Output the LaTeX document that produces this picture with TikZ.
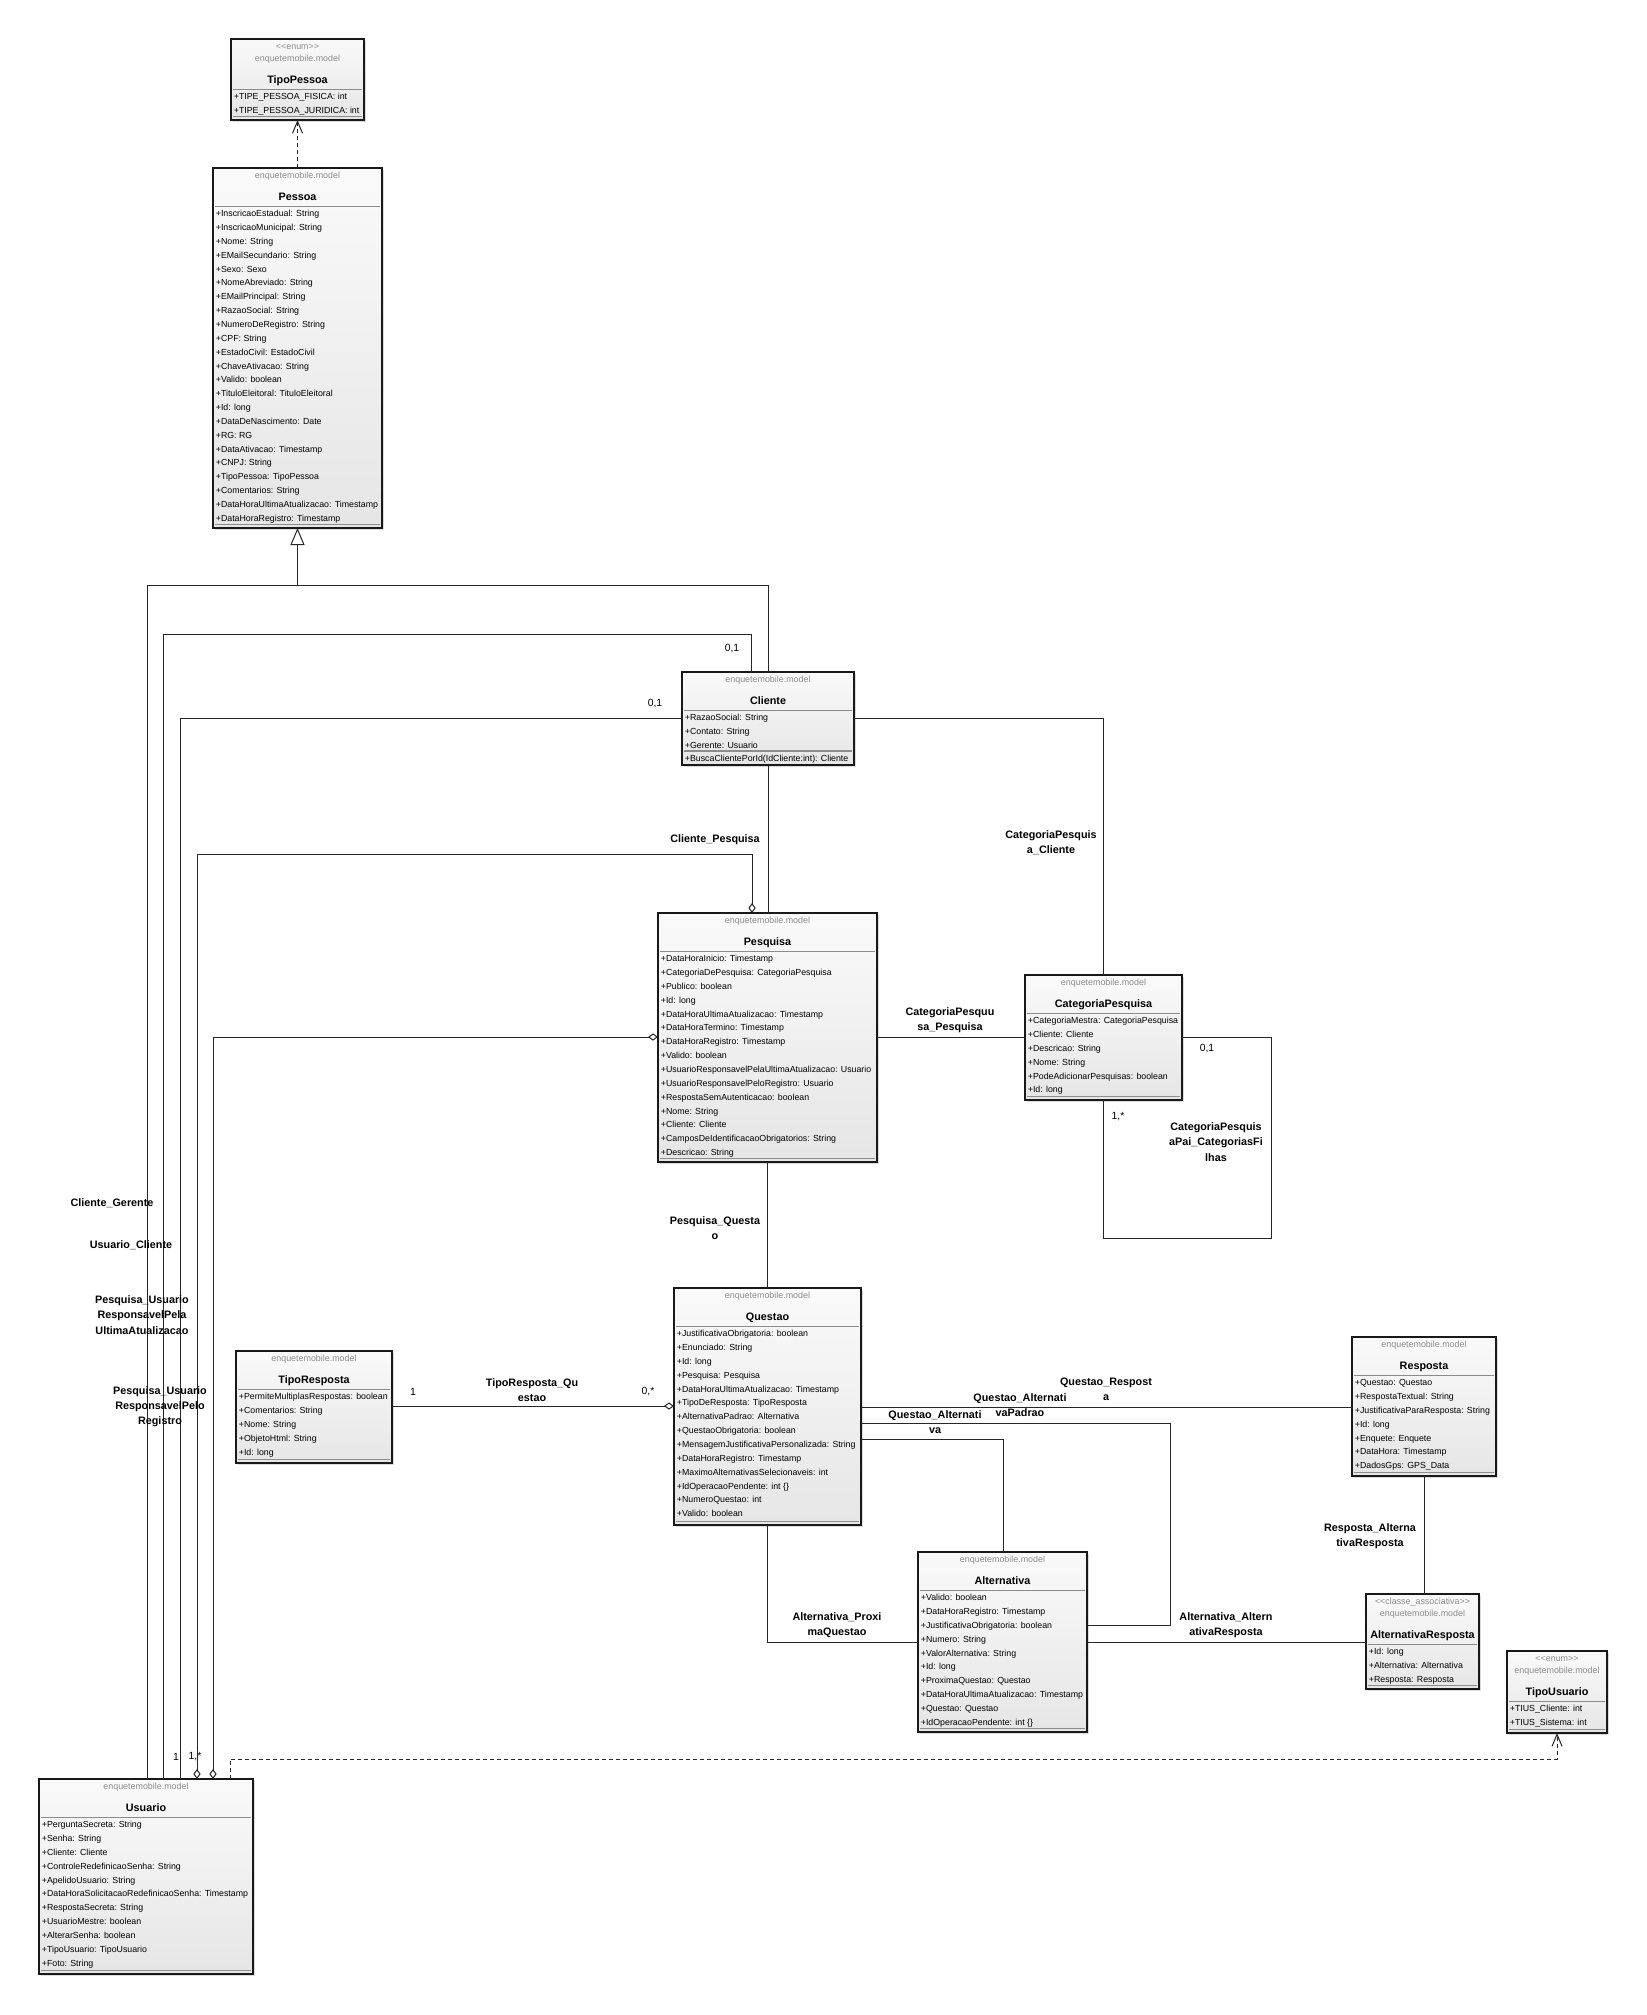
\documentclass[tikz,border=0pt]{standalone}
\usepackage{fontspec}
\setmainfont{Liberation Sans}
\usetikzlibrary{arrows.meta,fit}
\definecolor{pkggray}{HTML}{8C8C8C}
\tikzset{
 classframe/.style={draw=black!90,line width=0.75pt,top color=black!2,bottom color=black!10,inner sep=0pt,outer sep=0pt},
 boxshadow/.style={fill=black!14},
 sepline/.style={draw=black!45,line width=0.6pt},
 pkgtext/.style={inner sep=0pt,text=pkggray,font=\fontsize{4.45}{5}\selectfont,text height=3.19pt,text depth=0pt},
 nametext/.style={inner sep=0pt,font=\bfseries\fontsize{5.4}{6}\selectfont,text height=3.87pt,text depth=0pt},
 attrtext/.style={inner sep=0pt,anchor=west,font=\fontsize{4.4}{5}\selectfont,text height=3.15pt,text depth=0pt},
 assoc/.style={draw=black!85,line width=0.5pt},
 depline/.style={assoc,dash pattern=on 2pt off 1.5pt,-{Straight Barb[length=6pt,width=5pt]}},
 genarrow/.style={assoc,-{Triangle[open,length=8.5pt,width=7pt]}},
 aggboth/.style={assoc,{Diamond[open,length=5pt,width=3.6pt]}-{Diamond[open,length=5pt,width=3.6pt]}},
 aggend/.style={assoc,-{Diamond[open,length=5pt,width=3.6pt]}},
 assoclabel/.style={inner sep=0pt,align=center,font=\bfseries\fontsize{5.4}{7.6}\selectfont},
 multlabel/.style={inner sep=0pt,font=\fontsize{5.2}{6}\selectfont},
}
% #1 id, #2 x1, #3 y1, #4 x2, #5 y2, #6 stereotype, #7 name, #8 attributes, #9 operation
\newcommand\umlclass[9]{%
 \pgfmathsetmacro\clsxa{#2}\pgfmathsetmacro\clsya{#3}%
 \pgfmathsetmacro\clsxb{#4}\pgfmathsetmacro\clsyb{#5}%
 \pgfmathsetmacro\clsxm{(#2+#4)/2}%
 \fill[boxshadow] (\clsxa+2,\clsya+2) rectangle (\clsxb+2,\clsyb+2);
 \node[classframe,fit={(\clsxa,\clsya) (\clsxb,\clsyb)}] (#1) {};
 \if\relax\detokenize{#6}\relax
   \def\clsoff{0}%
 \else
   \node[pkgtext] (#1-st) at (\clsxm,\clsya+7.5) {#6};
   \def\clsoff{12}%
 \fi
 \node[pkgtext] (#1-pkg) at (\clsxm,\clsya+7+\clsoff) {enquetemobile.model};
 \node[nametext] (#1-name) at (\clsxm,\clsya+29+\clsoff) {#7};
 \draw[sepline] (\clsxa+2,\clsya+38.5+\clsoff) -- (\clsxb-2,\clsya+38.5+\clsoff);
 \foreach \clsattr [count=\clsi from 0] in {#8} {
   \node[attrtext] (#1-a\clsi) at (\clsxa+2.5,\clsya+45.5+\clsoff+13.85*\clsi) {\clsattr};
 }
 \if\relax\detokenize{#9}\relax
   \draw[sepline] (\clsxa+2,\clsyb-3.5) -- (\clsxb-2,\clsyb-3.5);
 \else
   \draw[sepline] (\clsxa+2,\clsyb-14) -- (\clsxb-2,\clsyb-14);
   \node[attrtext] (#1-op) at (\clsxa+2.5,\clsyb-7) {#9};
 \fi
}
\begin{document}
\begin{tikzpicture}[x=0.5pt,y=-0.5pt]
\fill[white] (0,0) rectangle (1646,2015);
\useasboundingbox (0,0) rectangle (1646,2015);

% ---------- classes ----------
\umlclass{tipopessoa}{231}{39}{364}{120}{<\kern0pt<enum>\kern0pt>}{TipoPessoa}
 {+TIPE\_PESSOA\_FISICA: int, +TIPE\_PESSOA\_JURIDICA: int}{}
\umlclass{pessoa}{213}{168}{382}{528}{}{Pessoa}
 {+InscricaoEstadual: String, +InscricaoMunicipal: String, +Nome: String, +EMailSecundario: String,
  +Sexo: Sexo, +NomeAbreviado: String, +EMailPrincipal: String, +RazaoSocial: String,
  +NumeroDeRegistro: String, +CPF: String, +EstadoCivil: EstadoCivil, +ChaveAtivacao: String,
  +Valido: boolean, +TituloEleitoral: TituloEleitoral, +Id: long, +DataDeNascimento: Date,
  +RG: RG, +DataAtivacao: Timestamp, +CNPJ: String, +TipoPessoa: TipoPessoa,
  +Comentarios: String, +DataHoraUltimaAtualizacao: Timestamp, +DataHoraRegistro: Timestamp}{}
\umlclass{cliente}{682}{672}{854}{765}{}{Cliente}
 {+RazaoSocial: String, +Contato: String, +Gerente: Usuario}{+BuscaClientePorId(IdCliente:int): Cliente}
\umlclass{pesquisa}{658}{913}{877}{1162}{}{Pesquisa}
 {+DataHoraInicio: Timestamp, +CategoriaDePesquisa: CategoriaPesquisa, +Publico: boolean, +Id: long,
  +DataHoraUltimaAtualizacao: Timestamp, +DataHoraTermino: Timestamp, +DataHoraRegistro: Timestamp,
  +Valido: boolean, +UsuarioResponsavelPelaUltimaAtualizacao: Usuario, +UsuarioResponsavelPeloRegistro: Usuario,
  +RespostaSemAutenticacao: boolean, +Nome: String, +Cliente: Cliente,
  +CamposDeIdentificacaoObrigatorios: String, +Descricao: String}{}
\umlclass{categoria}{1025}{975}{1182}{1100}{}{CategoriaPesquisa}
 {+CategoriaMestra: CategoriaPesquisa, +Cliente: Cliente, +Descricao: String, +Nome: String,
  +PodeAdicionarPesquisas: boolean, +Id: long}{}
\umlclass{questao}{674}{1288}{861}{1525}{}{Questao}
 {+JustificativaObrigatoria: boolean, +Enunciado: String, +Id: long, +Pesquisa: Pesquisa,
  +DataHoraUltimaAtualizacao: Timestamp, +TipoDeResposta: TipoResposta, +AlternativaPadrao: Alternativa,
  +QuestaoObrigatoria: boolean, +MensagemJustificativaPersonalizada: String, +DataHoraRegistro: Timestamp,
  +MaximoAlternativasSelecionaveis: int, +IdOperacaoPendente: int \{\}, +NumeroQuestao: int, +Valido: boolean}{}
\umlclass{tiporesposta}{236}{1351}{392}{1463}{}{TipoResposta}
 {+PermiteMultiplasRespostas: boolean, +Comentarios: String, +Nome: String, +ObjetoHtml: String, +Id: long}{}
\umlclass{resposta}{1352}{1337}{1496}{1476}{}{Resposta}
 {+Questao: Questao, +RespostaTextual: String, +JustificativaParaResposta: String, +Id: long,
  +Enquete: Enquete, +DataHora: Timestamp, +DadosGps: GPS\_Data}{}
\umlclass{alternativa}{918}{1552}{1087}{1732}{}{Alternativa}
 {+Valido: boolean, +DataHoraRegistro: Timestamp, +JustificativaObrigatoria: boolean, +Numero: String,
  +ValorAlternativa: String, +Id: long, +ProximaQuestao: Questao, +DataHoraUltimaAtualizacao: Timestamp,
  +Questao: Questao, +IdOperacaoPendente: int \{\}}{}
\umlclass{altresposta}{1366}{1594}{1479}{1689}{<\kern0pt<classe\_associativa>\kern0pt>}{AlternativaResposta}
 {+Id: long, +Alternativa: Alternativa, +Resposta: Resposta}{}
\umlclass{tipousuario}{1507}{1651}{1607}{1733}{<\kern0pt<enum>\kern0pt>}{TipoUsuario}
 {+TIUS\_Cliente: int, +TIUS\_Sistema: int}{}
\umlclass{usuario}{39}{1779}{253}{1974}{}{Usuario}
 {+PerguntaSecreta: String, +Senha: String, +Cliente: Cliente, +ControleRedefinicaoSenha: String,
  +ApelidoUsuario: String, +DataHoraSolicitacaoRedefinicaoSenha: Timestamp, +RespostaSecreta: String,
  +UsuarioMestre: boolean, +AlterarSenha: boolean, +TipoUsuario: TipoUsuario, +Foto: String}{}

% ---------- routing points ----------
\coordinate (genj) at (297.5,585);
\coordinate (ra1) at (147,585);
\coordinate (rb1) at (163,634);
\coordinate (rb2) at (751,634);
\coordinate (rc1) at (180,718);
\coordinate (rd1) at (197,854);
\coordinate (rd2) at (752,854);
\coordinate (re1) at (213,1037);
\coordinate (rg1) at (1103,718);
\coordinate (ri1) at (1271,1037);
\coordinate (ri2) at (1271,1238);
\coordinate (ri3) at (1103,1238);
\coordinate (rk) at (400,1406);
\coordinate (rl) at (900,1407);
\coordinate (rm1) at (1170,1423);
\coordinate (rm2) at (1170,1625);
\coordinate (rn1) at (1003,1439);
\coordinate (ro1) at (767,1642);
\coordinate (rr1) at (230,1759);
\coordinate (rr2) at (1557,1759);

% ---------- connectors ----------
\draw[depline] (pessoa.north) -- (tipopessoa.south);
\draw[genarrow] (genj) -- (pessoa.south);
\draw[assoc] (usuario.north -| ra1) -- (ra1) -- (genj);
\draw[assoc] (cliente.north) |- (genj);
\draw[assoc] (usuario.north -| rb1) -- (rb1) -- (rb2) -- (cliente.north -| rb2);
\draw[assoc] (usuario.north -| rc1) -- (rc1) -- (cliente.west |- rc1);
\draw[aggboth] (usuario.north -| rd1) -- (rd1) -- (rd2) -- (pesquisa.north -| rd2);
\draw[aggboth] (usuario.north -| re1) -- (re1) -- (pesquisa.west |- re1);
\draw[assoc] (cliente.south) -- (pesquisa.north -| cliente.south);
\draw[assoc] (cliente.east |- rg1) -- (rg1) -- (categoria.north -| rg1);
\draw[assoc] (pesquisa.east |- re1) -- (categoria.west |- re1);
\draw[assoc] (categoria.east |- ri1) -- (ri1) -- (ri2) -- (ri3) -- (categoria.south -| ri3);
\draw[assoc] (pesquisa.south) -- (questao.north -| pesquisa.south);
\draw[aggend] (tiporesposta.east |- rk) -- (questao.west |- rk);
\draw[assoc] (questao.east |- rl) -- (resposta.west |- rl);
\draw[assoc] (questao.east |- rm1) -- (rm1) -- (rm2) -- (alternativa.east |- rm2);
\draw[assoc] (questao.east |- rn1) -- (rn1) -- (alternativa.north -| rn1);
\draw[assoc] (questao.south -| ro1) -- (ro1) -- (alternativa.west |- ro1);
\draw[assoc] (alternativa.east |- ro1) -- (altresposta.west |- ro1);
\draw[assoc] (resposta.south) -- (altresposta.north -| resposta.south);
\draw[depline] (usuario.north -| rr1) -- (rr1) -- (rr2) -- (tipousuario.south -| rr2);

% ---------- association labels ----------
\node[assoclabel] (l-clipes) at (715,840) {Cliente\_Pesquisa};
\node[assoclabel] (l-catcli) at (1051,843) {CategoriaPesquis\\a\_Cliente};
\node[assoclabel] (l-catpes) at (950,1020.5) {CategoriaPesquu\\sa\_Pesquisa};
\node[assoclabel] (l-catpai) at (1216,1142) {CategoriaPesquis\\aPai\_CategoriasFi\\lhas};
\node[assoclabel] (l-pesque) at (715,1228) {Pesquisa\_Questa\\o};
\node[assoclabel] (l-tipque) at (532,1390) {TipoResposta\_Qu\\estao};
\node[assoclabel] (l-queres) at (1106,1389) {Questao\_Respost\\a};
\node[assoclabel] (l-quealtp) at (1020,1405.5) {Questao\_Alternati\\vaPadrao};
\node[assoclabel] (l-quealt) at (935,1422.5) {Questao\_Alternati\\va};
\node[assoclabel] (l-resalt) at (1370,1536.5) {Resposta\_Alterna\\tivaResposta};
\node[assoclabel] (l-altprox) at (837,1625.5) {Alternativa\_Proxi\\maQuestao};
\node[assoclabel] (l-altalt) at (1226,1625.5) {Alternativa\_Altern\\ativaResposta};
\node[assoclabel] (l-cliger) at (112,1203) {Cliente\_Gerente};
\node[assoclabel] (l-usucli) at (131,1245) {Usuario\_Cliente};
\node[assoclabel] (l-pesult) at (142,1315) {Pesquisa\_Usuario\\ResponsavelPela\\UltimaAtualizacao};
\node[assoclabel] (l-pesreg) at (160,1407) {Pesquisa\_Usuario\\ResponsavelPelo\\Registro};

% ---------- multiplicities ----------
\node[multlabel] (m1) at (732,649) {0,1};
\node[multlabel] (m2) at (655,704) {0,1};
\node[multlabel] (m3) at (1207,1049) {0,1};
\node[multlabel] (m4) at (1118,1117) {1,*};
\node[multlabel] (m5) at (413,1392) {1};
\node[multlabel] (m6) at (648,1392) {0,*};
\node[multlabel] (m7) at (176,1757) {1};
\node[multlabel] (m8) at (195,1757) {1,*};
\end{tikzpicture}
\end{document}
